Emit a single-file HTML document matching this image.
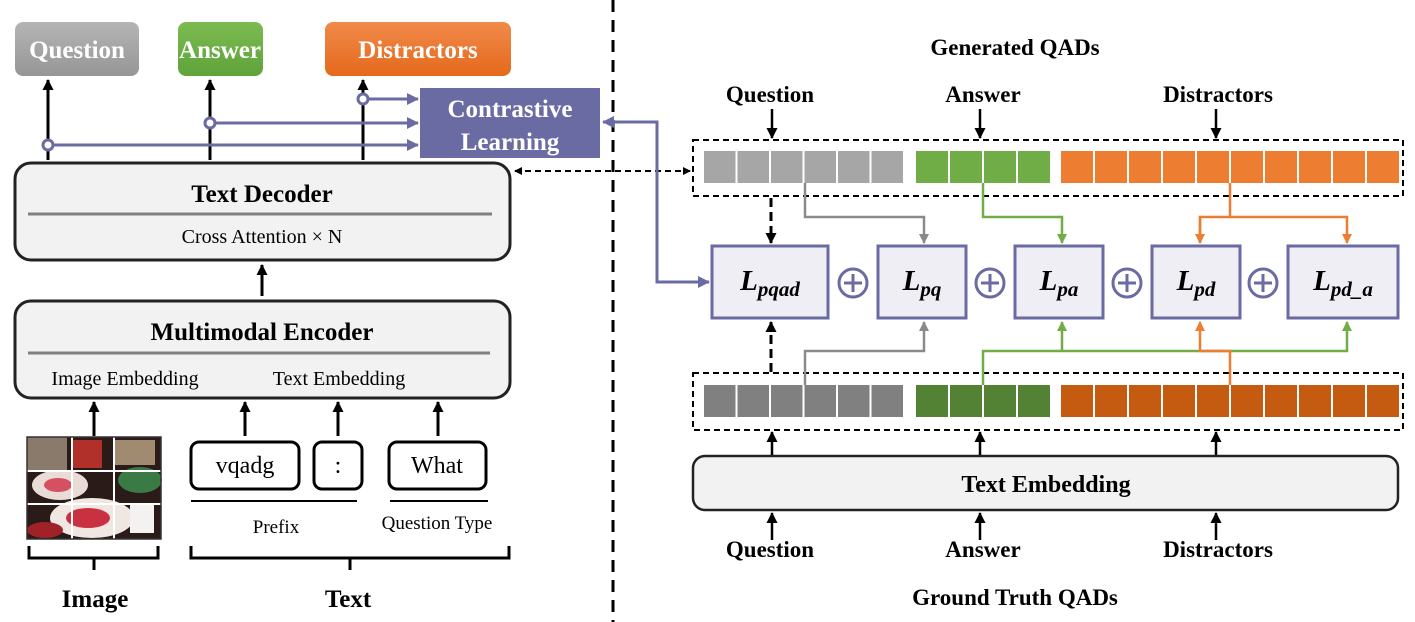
<!DOCTYPE html>
<html><head><meta charset="utf-8"><style>
html,body{margin:0;padding:0;background:#fff}
svg{display:block}
text{font-family:"Liberation Serif",serif}
</style></head><body>
<svg width="1415" height="622" viewBox="0 0 1415 622" xmlns="http://www.w3.org/2000/svg">
<defs>
<marker id="ab" markerWidth="11" markerHeight="11" refX="10" refY="5.5" orient="auto" markerUnits="userSpaceOnUse"><path d="M0,0 L11,5.5 L0,11 z" fill="#000"/></marker>
<marker id="ap" markerWidth="12" markerHeight="12" refX="11" refY="6" orient="auto-start-reverse" markerUnits="userSpaceOnUse"><path d="M0,0 L12,6 L0,12 z" fill="#6b6ba3"/></marker>
<marker id="ag" markerWidth="10" markerHeight="10" refX="9" refY="5" orient="auto" markerUnits="userSpaceOnUse"><path d="M0,0 L10,5 L0,10 z" fill="#8a8a8a"/></marker>
<marker id="agr" markerWidth="10" markerHeight="10" refX="9" refY="5" orient="auto" markerUnits="userSpaceOnUse"><path d="M0,0 L10,5 L0,10 z" fill="#70ad47"/></marker>
<marker id="ao" markerWidth="10" markerHeight="10" refX="9" refY="5" orient="auto" markerUnits="userSpaceOnUse"><path d="M0,0 L10,5 L0,10 z" fill="#ed7d31"/></marker>
<marker id="ad" markerWidth="8" markerHeight="8" refX="7" refY="4" orient="auto-start-reverse" markerUnits="userSpaceOnUse"><path d="M0,0 L8,4 L0,8 z" fill="#000"/></marker>
<linearGradient id="gq" x1="0" y1="0" x2="0" y2="1"><stop offset="0" stop-color="#b5b5b5"/><stop offset="1" stop-color="#969696"/></linearGradient>
<linearGradient id="ga" x1="0" y1="0" x2="0" y2="1"><stop offset="0" stop-color="#7cbb52"/><stop offset="1" stop-color="#5fa33a"/></linearGradient>
<linearGradient id="gd" x1="0" y1="0" x2="0" y2="1"><stop offset="0" stop-color="#f08a4a"/><stop offset="1" stop-color="#e5691c"/></linearGradient>
</defs>

<rect x="15" y="22" width="124" height="54" rx="8" fill="url(#gq)"/>
<text x="77" y="58" text-anchor="middle" font-size="25" font-weight="bold" fill="#fff">Question</text>
<rect x="178" y="22" width="85" height="54" rx="8" fill="url(#ga)"/>
<text x="220" y="58" text-anchor="middle" font-size="25" font-weight="bold" fill="#fff">Answer</text>
<rect x="325" y="22" width="186" height="54" rx="8" fill="url(#gd)"/>
<text x="418" y="58" text-anchor="middle" font-size="25" font-weight="bold" fill="#fff">Distractors</text>

<g stroke="#000" stroke-width="3">
<line x1="48" y1="160" x2="48" y2="80" marker-end="url(#ab)"/>
<line x1="210" y1="160" x2="210" y2="80" marker-end="url(#ab)"/>
<line x1="363" y1="160" x2="363" y2="80" marker-end="url(#ab)"/>
</g>
<g stroke="#6b6ba3" stroke-width="3" fill="none">
<line x1="48" y1="145" x2="418" y2="145" marker-end="url(#ap)"/>
<line x1="210" y1="123" x2="418" y2="123" marker-end="url(#ap)"/>
<line x1="363" y1="99" x2="418" y2="99" marker-end="url(#ap)"/>
<circle cx="48" cy="145" r="5" fill="#fff"/>
<circle cx="210" cy="123" r="5" fill="#fff"/>
<circle cx="363" cy="99" r="5" fill="#fff"/>
</g>
<rect x="420" y="88" width="180" height="70" fill="#6b6ba3"/>
<text x="510" y="117" text-anchor="middle" font-size="25" font-weight="bold" fill="#fff">Contrastive</text>
<text x="510" y="150" text-anchor="middle" font-size="25" font-weight="bold" fill="#fff">Learning</text>

<rect x="15" y="163" width="495" height="97" rx="16" fill="#f2f2f2" stroke="#222" stroke-width="3"/>
<text x="262" y="202" text-anchor="middle" font-size="25" font-weight="bold">Text Decoder</text>
<line x1="28" y1="214" x2="492" y2="214" stroke="#808080" stroke-width="3"/>
<text x="262" y="243" text-anchor="middle" font-size="20">Cross Attention × N</text>
<line x1="262" y1="296" x2="262" y2="265" stroke="#000" stroke-width="3" marker-end="url(#ab)"/>

<rect x="15" y="301" width="495" height="97" rx="16" fill="#f2f2f2" stroke="#222" stroke-width="3"/>
<text x="262" y="340" text-anchor="middle" font-size="25" font-weight="bold">Multimodal Encoder</text>
<line x1="28" y1="353" x2="490" y2="353" stroke="#808080" stroke-width="3"/>
<text x="125" y="385" text-anchor="middle" font-size="20">Image Embedding</text>
<text x="339" y="385" text-anchor="middle" font-size="20">Text Embedding</text>

<g stroke="#000" stroke-width="3">
<line x1="94" y1="436" x2="94" y2="402" marker-end="url(#ab)"/>
<line x1="245" y1="436" x2="245" y2="402" marker-end="url(#ab)"/>
<line x1="338" y1="436" x2="338" y2="402" marker-end="url(#ab)"/>
<line x1="438" y1="436" x2="438" y2="402" marker-end="url(#ab)"/>
</g>

<g>
<rect x="27" y="437" width="134" height="102" fill="#2a1a18"/>
<rect x="27" y="437" width="40" height="33" fill="#8a7a6c"/>
<rect x="72" y="440" width="30" height="28" fill="#b2302a"/>
<rect x="115" y="440" width="40" height="25" fill="#a08a70"/>
<ellipse cx="60" cy="485" rx="28" ry="15" fill="#e9dcd6"/>
<ellipse cx="58" cy="485" rx="14" ry="7" fill="#d65060"/>
<ellipse cx="140" cy="480" rx="22" ry="13" fill="#3a7a45"/>
<ellipse cx="92" cy="518" rx="42" ry="20" fill="#f0e6e2"/>
<ellipse cx="88" cy="518" rx="22" ry="10" fill="#c93040"/>
<rect x="130" y="505" width="24" height="28" fill="#f4f2f0"/>
<ellipse cx="45" cy="530" rx="18" ry="8" fill="#9e2228"/>
<g stroke="#fff" stroke-width="2">
<line x1="72" y1="437" x2="72" y2="539"/><line x1="114" y1="437" x2="114" y2="539"/>
<line x1="27" y1="471" x2="161" y2="471"/><line x1="27" y1="504" x2="161" y2="504"/>
</g>
<rect x="27" y="437" width="134" height="102" fill="none" stroke="#333" stroke-width="1.5"/>
</g>

<rect x="191" y="442" width="108" height="47" rx="8" fill="#fff" stroke="#000" stroke-width="3"/>
<text x="245" y="473" text-anchor="middle" font-size="24">vqadg</text>
<rect x="314" y="442" width="48" height="47" rx="8" fill="#fff" stroke="#000" stroke-width="3"/>
<text x="338" y="473" text-anchor="middle" font-size="24">:</text>
<rect x="389" y="442" width="97" height="47" rx="8" fill="#fff" stroke="#000" stroke-width="3"/>
<text x="437" y="473" text-anchor="middle" font-size="24">What</text>
<line x1="191" y1="501" x2="357" y2="501" stroke="#000" stroke-width="2"/>
<line x1="390" y1="501" x2="488" y2="501" stroke="#000" stroke-width="2"/>
<text x="276" y="533" text-anchor="middle" font-size="19">Prefix</text>
<text x="437" y="529" text-anchor="middle" font-size="19">Question Type</text>

<g fill="none" stroke="#000" stroke-width="3">
<path d="M29,546 V558 H158 V546 M94,558 V570"/>
<path d="M191,546 V558 H509 V546 M350,558 V570"/>
</g>
<text x="95" y="607" text-anchor="middle" font-size="25" font-weight="bold">Image</text>
<text x="348" y="607" text-anchor="middle" font-size="25" font-weight="bold">Text</text>

<line x1="613" y1="0" x2="613" y2="622" stroke="#000" stroke-width="3" stroke-dasharray="12,8"/>

<line x1="515" y1="171" x2="690" y2="171" stroke="#000" stroke-width="2" stroke-dasharray="6,4" marker-start="url(#ad)" marker-end="url(#ad)"/>
<path d="M603,122 H657 V282 H709" fill="none" stroke="#6b6ba3" stroke-width="3" marker-start="url(#ap)" marker-end="url(#ap)"/>

<text x="1015" y="55" text-anchor="middle" font-size="23" font-weight="bold">Generated QADs</text>
<text x="770" y="102" text-anchor="middle" font-size="23" font-weight="bold">Question</text>
<text x="983" y="102" text-anchor="middle" font-size="23" font-weight="bold">Answer</text>
<text x="1218" y="102" text-anchor="middle" font-size="23" font-weight="bold">Distractors</text>
<g stroke="#000" stroke-width="2.5">
<line x1="772" y1="109" x2="772" y2="138" marker-end="url(#ab)"/>
<line x1="980" y1="109" x2="980" y2="138" marker-end="url(#ab)"/>
<line x1="1216" y1="109" x2="1216" y2="138" marker-end="url(#ab)"/>
</g>

<rect x="693" y="140" width="710" height="56" fill="none" stroke="#000" stroke-width="2" stroke-dasharray="6,4"/>
<g fill="#a6a6a6">
<rect x="704" y="151" width="31.5" height="32"/><rect x="737.5" y="151" width="31.5" height="32"/><rect x="771" y="151" width="31.5" height="32"/><rect x="804.5" y="151" width="31.5" height="32"/><rect x="838" y="151" width="31.5" height="32"/><rect x="871.5" y="151" width="31.5" height="32"/>
</g>
<g fill="#70ad47">
<rect x="916" y="151" width="32" height="32"/><rect x="950" y="151" width="32" height="32"/><rect x="984" y="151" width="32" height="32"/><rect x="1018" y="151" width="32" height="32"/>
</g>
<g fill="#ed7d31">
<rect x="1061" y="151" width="32" height="32"/><rect x="1095" y="151" width="32" height="32"/><rect x="1129" y="151" width="32" height="32"/><rect x="1163" y="151" width="32" height="32"/><rect x="1197" y="151" width="32" height="32"/><rect x="1231" y="151" width="32" height="32"/><rect x="1265" y="151" width="32" height="32"/><rect x="1299" y="151" width="32" height="32"/><rect x="1333" y="151" width="32" height="32"/><rect x="1367" y="151" width="32" height="32"/>
</g>

<rect x="693" y="373" width="710" height="57" fill="none" stroke="#000" stroke-width="2" stroke-dasharray="6,4"/>
<g fill="#808080">
<rect x="704" y="385" width="31.5" height="32"/><rect x="737.5" y="385" width="31.5" height="32"/><rect x="771" y="385" width="31.5" height="32"/><rect x="804.5" y="385" width="31.5" height="32"/><rect x="838" y="385" width="31.5" height="32"/><rect x="871.5" y="385" width="31.5" height="32"/>
</g>
<g fill="#548235">
<rect x="916" y="385" width="32" height="32"/><rect x="950" y="385" width="32" height="32"/><rect x="984" y="385" width="32" height="32"/><rect x="1018" y="385" width="32" height="32"/>
</g>
<g fill="#c55a11">
<rect x="1061" y="385" width="32" height="32"/><rect x="1095" y="385" width="32" height="32"/><rect x="1129" y="385" width="32" height="32"/><rect x="1163" y="385" width="32" height="32"/><rect x="1197" y="385" width="32" height="32"/><rect x="1231" y="385" width="32" height="32"/><rect x="1265" y="385" width="32" height="32"/><rect x="1299" y="385" width="32" height="32"/><rect x="1333" y="385" width="32" height="32"/><rect x="1367" y="385" width="32" height="32"/>
</g>

<g fill="none" stroke-width="2.5">
<path d="M805,183 V217 H924 V243" stroke="#8a8a8a" marker-end="url(#ag)"/>
<path d="M983,183 V217 H1062 V243" stroke="#70ad47" marker-end="url(#agr)"/>
<path d="M1230,183 V217" stroke="#ed7d31"/>
<path d="M1200,243 V217 H1347 V243" stroke="#ed7d31" marker-end="url(#ao)"/>
<path d="M1200,217 V243" stroke="#ed7d31" marker-end="url(#ao)"/>
<path d="M805,385 V351 H924 V322" stroke="#8a8a8a" marker-end="url(#ag)"/>
<path d="M983,385 V351 H1347 V322" stroke="#70ad47" marker-end="url(#agr)"/>
<path d="M1062,351 V322" stroke="#70ad47" marker-end="url(#agr)"/>
<path d="M1230,385 V351 H1200 V322" stroke="#ed7d31" marker-end="url(#ao)"/>
</g>
<g stroke="#000" stroke-width="3" stroke-dasharray="9,5">
<line x1="771" y1="198" x2="771" y2="243" marker-end="url(#ab)"/>
<line x1="771" y1="372" x2="771" y2="322" marker-end="url(#ab)"/>
</g>

<g fill="#eeeef4" stroke="#6b6ba3" stroke-width="3">
<rect x="712" y="246" width="116" height="72"/>
<rect x="878" y="246" width="88" height="72"/>
<rect x="1015" y="246" width="88" height="72"/>
<rect x="1152" y="246" width="88" height="72"/>
<rect x="1288" y="246" width="110" height="72"/>
</g>
<g font-style="italic" font-weight="bold" font-size="29">
<text x="770" y="290" text-anchor="middle">L<tspan font-size="21" dy="6">pqad</tspan></text>
<text x="922" y="290" text-anchor="middle">L<tspan font-size="21" dy="6">pq</tspan></text>
<text x="1059" y="290" text-anchor="middle">L<tspan font-size="21" dy="6">pa</tspan></text>
<text x="1196" y="290" text-anchor="middle">L<tspan font-size="21" dy="6">pd</tspan></text>
<text x="1343" y="290" text-anchor="middle">L<tspan font-size="21" dy="6">pd_a</tspan></text>
</g>
<g fill="none" stroke="#6b6ba3" stroke-width="3">
<circle cx="853" cy="283" r="14"/><path d="M844,283 H862 M853,274 V292"/>
<circle cx="990" cy="283" r="14"/><path d="M981,283 H999 M990,274 V292"/>
<circle cx="1127" cy="283" r="14"/><path d="M1118,283 H1136 M1127,274 V292"/>
<circle cx="1263" cy="283" r="14"/><path d="M1254,283 H1272 M1263,274 V292"/>
</g>

<g stroke="#000" stroke-width="2.5">
<line x1="772" y1="455" x2="772" y2="432" marker-end="url(#ab)"/>
<line x1="980" y1="455" x2="980" y2="432" marker-end="url(#ab)"/>
<line x1="1216" y1="455" x2="1216" y2="432" marker-end="url(#ab)"/>
<line x1="772" y1="540" x2="772" y2="513" marker-end="url(#ab)"/>
<line x1="980" y1="540" x2="980" y2="513" marker-end="url(#ab)"/>
<line x1="1216" y1="540" x2="1216" y2="513" marker-end="url(#ab)"/>
</g>
<rect x="693" y="456" width="705" height="54" rx="12" fill="#f2f2f2" stroke="#222" stroke-width="2.5"/>
<text x="1046" y="492" text-anchor="middle" font-size="24" font-weight="bold">Text Embedding</text>
<text x="770" y="557" text-anchor="middle" font-size="23" font-weight="bold">Question</text>
<text x="983" y="557" text-anchor="middle" font-size="23" font-weight="bold">Answer</text>
<text x="1218" y="557" text-anchor="middle" font-size="23" font-weight="bold">Distractors</text>
<text x="1015" y="605" text-anchor="middle" font-size="23" font-weight="bold">Ground Truth QADs</text>
</svg>
</body></html>
